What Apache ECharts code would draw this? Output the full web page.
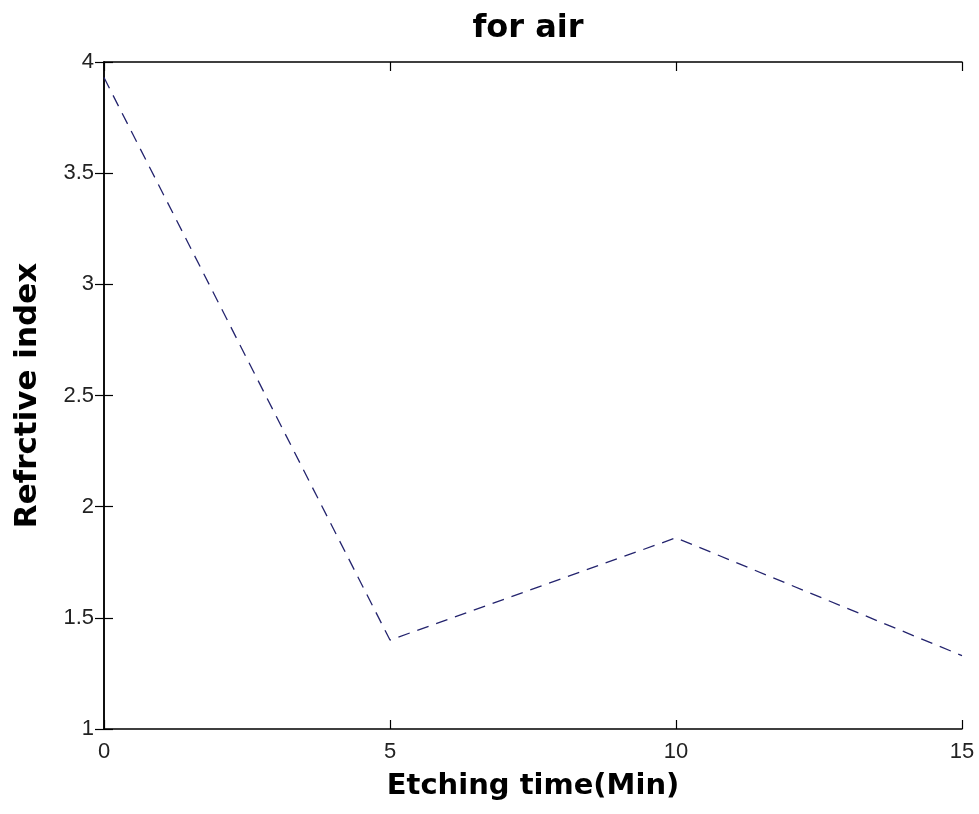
<!DOCTYPE html>
<html>
<head>
<meta charset="utf-8">
<script src="https://cdn.jsdelivr.net/npm/echarts@6/dist/echarts.min.js"></script>
<style>
html,body{margin:0;padding:0;background:#fff;}
#chart{width:979px;height:814px;}
</style>
</head>
<body>
<div id="chart"></div>
<script>
// 刻蚀时间 (Min) 与折射率
var etchTimes = [0, 5, 10, 15];
var refractiveIndex = [3.93, 1.40, 1.86, 1.33];

var titleText = 'for air';
var xName = 'Etching time(Min)';
var yName = 'Refrctive index';

var seriesData = [];
for (var i = 0; i < etchTimes.length; i++) {
	seriesData.push([etchTimes[i], refractiveIndex[i]]);
}

var myChart = echarts.init(document.getElementById('chart'));
var axisLineStyle = { color: '#000', width: 1.5 };
var tickStyle = { show: true, inside: true, length: 9, lineStyle: { color: '#000', width: 1.2 } };

var option = {
	animation: false,
	backgroundColor: '#fff',
	title: {
		text: titleText,
		left: 523,
		top: 8,
		textAlign: 'center',
		textStyle: { fontFamily: 'DejaVu Sans', fontWeight: 'bold', fontSize: 32, color: '#000' }
	},
	grid: { left: 104, right: 17, top: 62, bottom: 85, containLabel: false },
	xAxis: [{
		type: 'value',
		min: 0, max: 15, interval: 5,
		name: xName,
		nameLocation: 'middle',
		nameGap: 43,
		nameTextStyle: { fontFamily: 'DejaVu Sans', fontWeight: 'bold', fontSize: 29, color: '#000' },
		axisLine: { show: true, lineStyle: axisLineStyle },
		axisTick: tickStyle,
		axisLabel: { show: true, margin: 12, color: '#222', fontFamily: 'Liberation Sans', fontSize: 22 },
		splitLine: { show: false }
	}, {
		type: 'value', position: 'top',
		min: 0, max: 15, interval: 5,
		axisLine: { show: true, lineStyle: axisLineStyle },
		axisTick: tickStyle,
		axisLabel: { show: false },
		splitLine: { show: false }
	}],
	yAxis: [{
		type: 'value',
		min: 1, max: 4, interval: 0.5,
		name: yName,
		nameLocation: 'middle',
		nameGap: 61,
		nameTextStyle: { fontFamily: 'DejaVu Sans', fontWeight: 'bold', fontSize: 31, color: '#000' },
		axisLine: { show: true, lineStyle: axisLineStyle },
		axisTick: tickStyle,
		axisLabel: { show: true, margin: 10, color: '#222', fontFamily: 'Liberation Sans', fontSize: 22 },
		splitLine: { show: false }
	}, {
		type: 'value', position: 'right',
		min: 1, max: 4, interval: 0.5,
		axisLine: { show: true, lineStyle: axisLineStyle },
		axisTick: tickStyle,
		axisLabel: { show: false },
		splitLine: { show: false }
	}],
	series: [{
		type: 'line',
		data: seriesData,
		symbol: 'none',
		lineStyle: { color: '#24246e', width: 1.3, type: [12, 8] }
	}]
};
myChart.setOption(option, true);
</script>
</body>
</html>
